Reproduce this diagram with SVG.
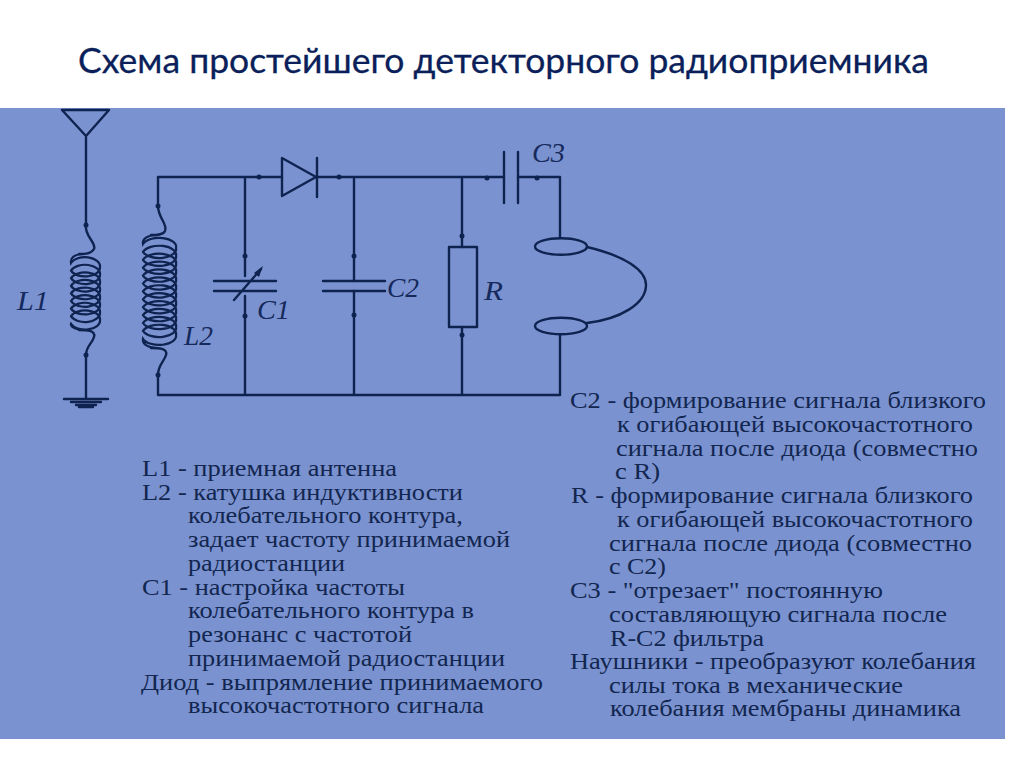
<svg xmlns="http://www.w3.org/2000/svg" width="1024" height="767" viewBox="0 0 1024 767">
<style>
.w{fill:none;stroke:#0f2350;stroke-width:2.4;stroke-linecap:round;stroke-linejoin:round}
.c{fill:none;stroke:#0f2350;stroke-width:2.2}
.d{fill:#0f2350}
.lab{font-family:"Liberation Serif",serif;font-style:italic;font-size:27px;fill:#15295c}
.t{font-family:"Liberation Serif",serif;font-size:22.500px;fill:#12264f}
.h{font-family:Lato,"Noto Sans",sans-serif;font-size:35px;fill:#0b1f5a;stroke:#0b1f5a;stroke-width:.3}
</style>
<rect width="1024" height="767" fill="#fff"/>
<rect id="panel" x="0" y="108" width="1005" height="631" fill="#7a92cf"/>
<text class="h" x="78" y="73" textLength="851" lengthAdjust="spacingAndGlyphs">Схема простейшего детекторного радиоприемника</text>
<g id="connectors">
<path class="w" d="M86 137V225M86 355V399"/>
<path class="w" d="M158 206V177H282M158 375V395H560V335M245 177V276M245 296V395M354 177V281M354 291V395M317 177H504M462 177V247M462 327V395M518 177H560V238"/>
<path class="w" d="M86 225C84 236 97 243 94 249C91 254 85 254 79 254"/>
<path class="w" d="M79 330C86 330 96 330 94 337C92 344 86 346 86 355"/>
<path class="w" d="M158 206C158 218 168 224 165 231C163 235 157 235 151 235"/>
<path class="w" d="M151 348C158 348 168 348 166 355C164 362 158 365 158 375"/>
<path class="w" d="M587 247C625 256 646 270 646 285C646 304 620 319 587 323"/>
</g>
<g id="antenna"><path class="w" d="M62 110H109L86 136Z"/></g>
<g id="ground"><path class="w" d="M64 399H108M71 402H101M76 405H96M79 407H93"/></g>
<g id="L1">
<path class="c" d="M85 254C74 254 70 258 71 263a15 9 0 0 1 29 3.800a15 9 0 0 1 -29 3.800a15 9 0 0 1 29 3.800a15 9 0 0 1 -29 3.800a15 9 0 0 1 29 3.800a15 9 0 0 1 -29 3.800a15 9 0 0 1 29 3.800a15 9 0 0 1 -29 3.800a15 9 0 0 1 29 3.800a15 9 0 0 1 -29 3.800a15 9 0 0 1 29 3.800a15 9 0 0 1 -29 3.800a15 9 0 0 1 29 3.800a15 9 0 0 1 -29 3.800a15 9 0 0 1 29 3.800a15 9 0 0 1 -29 3.800C70 326 75 330 85 330"/>
<text class="lab" x="17" y="310" textLength="32" lengthAdjust="spacingAndGlyphs">L1</text></g>
<g id="L2">
<path class="c" d="M158 235C147 235 142 239 143 244a17 9 0 0 1 33 3.950a17 9 0 0 1 -33 3.950a17 9 0 0 1 33 3.950a17 9 0 0 1 -33 3.950a17 9 0 0 1 33 3.950a17 9 0 0 1 -33 3.950a17 9 0 0 1 33 3.950a17 9 0 0 1 -33 3.950a17 9 0 0 1 33 3.950a17 9 0 0 1 -33 3.950a17 9 0 0 1 33 3.950a17 9 0 0 1 -33 3.950a17 9 0 0 1 33 3.950a17 9 0 0 1 -33 3.950a17 9 0 0 1 33 3.950a17 9 0 0 1 -33 3.950a17 9 0 0 1 33 3.950a17 9 0 0 1 -33 3.950a17 9 0 0 1 33 3.950a17 9 0 0 1 -33 3.950a17 9 0 0 1 33 3.950a17 9 0 0 1 -33 3.950a17 9 0 0 1 33 3.950a17 9 0 0 1 -33 3.950C142 344 148 348 158 348"/>
<text class="lab" x="184" y="345" textLength="29" lengthAdjust="spacingAndGlyphs">L2</text></g>
<g id="C1"><path class="w" d="M214 281H276M214 291H276M234 300L261 269"/><path class="d" d="M263 266L254 273L259 277Z"/><text class="lab" x="257" y="319" textLength="33" lengthAdjust="spacingAndGlyphs">C1</text></g>
<g id="diode"><path class="w" d="M282 158V196L316 177ZM317 158V197"/></g>
<g id="C2"><path class="w" d="M323 281H385M323 291H385"/><text class="lab" x="387" y="297" textLength="32" lengthAdjust="spacingAndGlyphs">C2</text></g>
<g id="R"><rect class="w" x="449" y="247" width="28" height="80"/><text class="lab" x="484" y="300" textLength="19" lengthAdjust="spacingAndGlyphs">R</text></g>
<g id="C3"><path class="w" d="M504 152V203M518 152V203"/><text class="lab" x="532" y="162" textLength="33" lengthAdjust="spacingAndGlyphs">C3</text></g>
<g id="phones"><ellipse class="w" cx="561" cy="246.500" rx="26" ry="8.300"/><ellipse class="w" cx="561" cy="326" rx="26" ry="8.300"/></g>
<g id="dots" class="d"><circle cx="86" cy="225" r="2.500"/><circle cx="86" cy="355" r="2.500"/><circle cx="158" cy="206" r="2.500"/><circle cx="158" cy="375" r="2.500"/><circle cx="245" cy="256" r="2.500"/><circle cx="245" cy="316" r="2.500"/><circle cx="259" cy="177" r="2.500"/><circle cx="339" cy="177" r="2.500"/><circle cx="354" cy="256" r="2.500"/><circle cx="354" cy="315" r="2.500"/><circle cx="462" cy="236" r="2.500"/><circle cx="462" cy="335" r="2.500"/><circle cx="487" cy="178" r="2.500"/><circle cx="537" cy="178" r="2.500"/></g>
<g id="legend-left" class="t">
<text x="142" y="476" textLength="255" lengthAdjust="spacingAndGlyphs">L1 - приемная антенна</text>
<text x="142" y="500" textLength="321" lengthAdjust="spacingAndGlyphs">L2 - катушка индуктивности</text>
<text x="188" y="523" textLength="275" lengthAdjust="spacingAndGlyphs">колебательного контура,</text>
<text x="188" y="547" textLength="322" lengthAdjust="spacingAndGlyphs">задает частоту принимаемой</text>
<text x="188" y="571" textLength="157" lengthAdjust="spacingAndGlyphs">радиостанции</text>
<text x="142" y="595" textLength="263" lengthAdjust="spacingAndGlyphs">C1 - настройка частоты</text>
<text x="188" y="618" textLength="286" lengthAdjust="spacingAndGlyphs">колебательного контура в</text>
<text x="188" y="642" textLength="224" lengthAdjust="spacingAndGlyphs">резонанс с частотой</text>
<text x="188" y="666" textLength="317" lengthAdjust="spacingAndGlyphs">принимаемой радиостанции</text>
<text x="141" y="690" textLength="402" lengthAdjust="spacingAndGlyphs">Диод - выпрямление принимаемого</text>
<text x="188" y="713" textLength="296" lengthAdjust="spacingAndGlyphs">высокочастотного сигнала</text>
</g>
<g id="legend-right" class="t">
<text x="570" y="408" textLength="416" lengthAdjust="spacingAndGlyphs">C2 - формирование сигнала близкого</text>
<text x="617" y="432" textLength="356" lengthAdjust="spacingAndGlyphs">к огибающей высокочастотного</text>
<text x="616" y="456" textLength="362" lengthAdjust="spacingAndGlyphs">сигнала после диода (совместно</text>
<text x="615" y="479" textLength="45" lengthAdjust="spacingAndGlyphs">с R)</text>
<text x="571" y="503" textLength="402" lengthAdjust="spacingAndGlyphs">R - формирование сигнала близкого</text>
<text x="617" y="527" textLength="356" lengthAdjust="spacingAndGlyphs">к огибающей высокочастотного</text>
<text x="609" y="551" textLength="363" lengthAdjust="spacingAndGlyphs">сигнала после диода (совместно</text>
<text x="609" y="574" textLength="57" lengthAdjust="spacingAndGlyphs">с C2)</text>
<text x="570" y="598" textLength="313" lengthAdjust="spacingAndGlyphs">C3 - "отрезает" постоянную</text>
<text x="609" y="622" textLength="338" lengthAdjust="spacingAndGlyphs">составляющую сигнала после</text>
<text x="610" y="646" textLength="154" lengthAdjust="spacingAndGlyphs">R-C2 фильтра</text>
<text x="570" y="669" textLength="406" lengthAdjust="spacingAndGlyphs">Наушники - преобразуют колебания</text>
<text x="609" y="693" textLength="294" lengthAdjust="spacingAndGlyphs">силы тока в механические</text>
<text x="610" y="716" textLength="351" lengthAdjust="spacingAndGlyphs">колебания мембраны динамика</text>
</g>
</svg>
